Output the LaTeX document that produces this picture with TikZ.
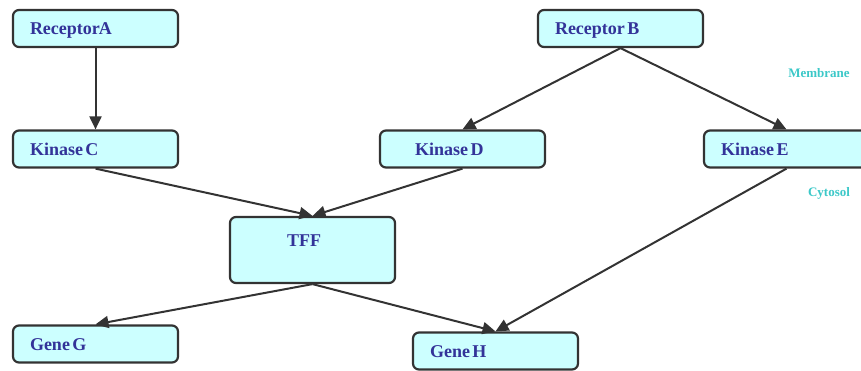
\documentclass[tikz,border=0pt]{standalone}
\usepackage{fontspec}
\setmainfont{Liberation Serif}
\usetikzlibrary{arrows.meta}

\definecolor{boxfill}{HTML}{CCFFFF}
\definecolor{boxline}{HTML}{333333}
\definecolor{labelblue}{HTML}{333399}
\definecolor{regionteal}{HTML}{3CC8C8}

% tight word gap, as in the original labels
\newcommand{\wgap}{\kern2.5pt}

\tikzset{
    protbox/.style={draw=boxline, fill=boxfill, line width=2.2pt, rounded corners=6pt,
        minimum width=165pt, minimum height=37pt, inner xsep=17pt, inner ysep=0pt,
        text width=131pt, align=left, text height=12pt, text depth=0pt,
        text=labelblue, font=\fontsize{18}{20}\selectfont\bfseries},
    region/.style={text=regionteal, font=\fontsize{13}{15}\selectfont\bfseries},
    link/.style={draw=boxline, line width=2pt, -{Triangle[length=13pt,width=12pt]}}
}

\begin{document}
\begin{tikzpicture}[x=1pt, y=-1pt]
    \useasboundingbox (0,0) rectangle (861,370);
    \clip (0,0) rectangle (861,370);

    % Receptors
    \node[protbox] (recA) at (95.5,28.5) {Receptor\kern-1ptA};
    \node[protbox] (recB) at (620.5,28.5) {Receptor\wgap B};

    % Kinases
    \node[protbox] (kinC) at (95.5,149) {Kinase\wgap C};
    \node[protbox] (kinD) at (462.5,149) {\hspace*{18pt}Kinase\wgap D};
    \node[protbox] (kinE) at (786.5,149) {Kinase\wgap E};

    % Transcription factor
    \node[protbox, minimum height=66pt, text height=12pt, text depth=20pt] (tff) at (312.5,250) {\hspace*{40pt}TFF};

    % Genes
    \node[protbox] (geneG) at (95.5,344) {Gene\wgap G};
    \node[protbox] (geneH) at (495.5,351) {Gene\wgap H};

    % Compartment labels
    \node[region] (memb) at (819,73) {Membrane};
    \node[region] (cyto) at (829,193) {Cytosol};

    % Signalling arrows
    \draw[link] (recA.south) -- (kinC.north);
    \draw[link] (recB.south) -- (kinD.north);
    \draw[link] (recB.south) -- (kinE.north);
    \draw[link] (kinC.south) -- (tff.north);
    \draw[link] (kinD.south) -- (tff.north);
    \draw[link] (kinE.south) -- (geneH.north);
    \draw[link] (tff.south) -- (geneG.north);
    \draw[link] (tff.south) -- (geneH.north);
\end{tikzpicture}
\end{document}
